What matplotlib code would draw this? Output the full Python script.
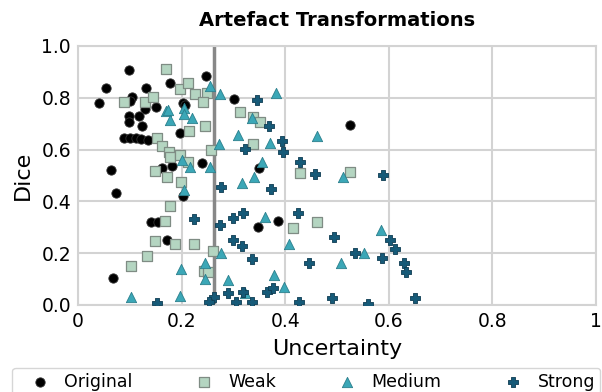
import matplotlib
matplotlib.use("Agg")
import matplotlib.pyplot as plt

# uncertainty / dice pairs
orig_x = [0.099, 0.054, 0.131, 0.041, 0.104, 0.100, 0.151, 0.129, 0.177, 0.247,
          0.203, 0.206, 0.302, 0.099, 0.118, 0.099, 0.124, 0.089, 0.100, 0.111,
          0.121, 0.135, 0.196, 0.063, 0.163, 0.182, 0.171, 0.240, 0.074, 0.203,
          0.140, 0.154, 0.172, 0.067, 0.350, 0.525, 0.347, 0.387]
orig_y = [0.907, 0.838, 0.838, 0.780, 0.803, 0.788, 0.763, 0.756, 0.858, 0.882,
          0.780, 0.770, 0.794, 0.730, 0.730, 0.708, 0.691, 0.643, 0.643, 0.643,
          0.641, 0.637, 0.664, 0.521, 0.528, 0.537, 0.495, 0.547, 0.434, 0.421,
          0.319, 0.322, 0.251, 0.105, 0.528, 0.695, 0.302, 0.324]

weak_x = [0.169, 0.088, 0.129, 0.144, 0.196, 0.213, 0.225, 0.249, 0.241, 0.215,
          0.246, 0.153, 0.163, 0.176, 0.177, 0.196, 0.212, 0.257, 0.312, 0.148,
          0.171, 0.199, 0.337, 0.351, 0.338, 0.429, 0.525, 0.461, 0.416, 0.178,
          0.167, 0.148, 0.188, 0.223, 0.133, 0.103, 0.260, 0.243, 0.251]
weak_y = [0.911, 0.785, 0.782, 0.802, 0.833, 0.856, 0.813, 0.820, 0.785, 0.672,
          0.689, 0.643, 0.614, 0.592, 0.570, 0.580, 0.553, 0.598, 0.746, 0.517,
          0.495, 0.474, 0.724, 0.708, 0.622, 0.508, 0.512, 0.322, 0.296, 0.382,
          0.324, 0.247, 0.234, 0.236, 0.189, 0.152, 0.210, 0.131, 0.129]

med_x = [0.255, 0.275, 0.169, 0.174, 0.204, 0.204, 0.178, 0.220, 0.308, 0.272,
         0.201, 0.217, 0.254, 0.382, 0.335, 0.371, 0.461, 0.356, 0.512, 0.340,
         0.317, 0.361, 0.408, 0.585, 0.553, 0.507, 0.379, 0.398, 0.323, 0.204,
         0.276, 0.246, 0.246, 0.198, 0.290, 0.196, 0.103]
med_y = [0.847, 0.813, 0.749, 0.753, 0.759, 0.737, 0.714, 0.721, 0.656, 0.622,
         0.560, 0.531, 0.534, 0.820, 0.723, 0.624, 0.653, 0.553, 0.495, 0.493,
         0.470, 0.341, 0.236, 0.290, 0.202, 0.161, 0.116, 0.071, 0.045, 0.442,
         0.202, 0.163, 0.099, 0.138, 0.097, 0.035, 0.032]

strong_x = [0.345, 0.368, 0.393, 0.395, 0.323, 0.429, 0.457, 0.588, 0.372, 0.319,
            0.425, 0.494, 0.317, 0.336, 0.445, 0.535, 0.586, 0.602, 0.612, 0.630,
            0.634, 0.650, 0.490, 0.560, 0.426, 0.364, 0.376, 0.318, 0.336, 0.276,
            0.223, 0.274, 0.299, 0.300, 0.289, 0.263, 0.152, 0.252, 0.305]
strong_y = [0.792, 0.689, 0.633, 0.592, 0.601, 0.553, 0.505, 0.502, 0.447, 0.354,
            0.354, 0.264, 0.228, 0.176, 0.161, 0.200, 0.183, 0.251, 0.216, 0.161,
            0.129, 0.026, 0.026, 0.004, 0.010, 0.052, 0.064, 0.052, 0.013, 0.455,
            0.331, 0.309, 0.335, 0.251, 0.045, 0.030, 0.009, 0.010, 0.013]

threshold = 0.263

x_ticks = [0, 0.2, 0.4, 0.6, 0.8, 1]
x_labels = ["0", "0.2", "0.4", "0.6", "0.8", "1"]
y_ticks = [0.0, 0.2, 0.4, 0.6, 0.8, 1.0]
y_labels = ["0.0", "0.2", "0.4", "0.6", "0.8", "1.0"]

fig = plt.figure(figsize=(6.02, 3.92), dpi=100)
ax = fig.add_axes([0.1296, 0.222, 0.8604, 0.661])

ax.grid(True, color="#d3d3d3", linewidth=1.5, zorder=0)
ax.set_axisbelow(True)
for s in ax.spines.values():
    s.set_color("#d3d3d3")
    s.set_linewidth(1.5)

ax.axvline(threshold, color="#888888", linewidth=2.5, zorder=1)

ax.scatter(orig_x, orig_y, marker="o", s=45, color="black",
           edgecolor="#333333", linewidth=0.6, label="Original", zorder=3)
ax.scatter(weak_x, weak_y, marker="s", s=45, color="#b4d5c1",
           edgecolor="#7f8c84", linewidth=0.9, label="Weak", zorder=3)
ax.scatter(med_x, med_y, marker="^", s=55, color="#3ba7b7",
           edgecolor="#2b7f8c", linewidth=0.6, label="Medium", zorder=3)
ax.scatter(strong_x, strong_y, marker="P", s=55, color="#165a78",
           edgecolor="#0e3c52", linewidth=0.6, label="Strong", zorder=3)

ax.set_xlim(0, 1)
ax.set_ylim(0, 1)
ax.set_xticks(x_ticks)
ax.set_xticklabels(x_labels, fontsize=13.5)
ax.set_yticks(y_ticks)
ax.set_yticklabels(y_labels, fontsize=13.5)
ax.tick_params(length=0, pad=5)

ax.set_title("Artefact Transformations", fontsize=14, fontweight="bold", pad=14)
ax.set_xlabel("Uncertainty", fontsize=16, labelpad=6)
ax.set_ylabel("Dice", fontsize=16, labelpad=6)

fig.legend(loc="upper left", bbox_to_anchor=(0.02, 0.062, 0.977, 0), mode="expand",
           ncol=4, fontsize=12.5, frameon=True, edgecolor="#cccccc",
           handlelength=2.6, handletextpad=0.1, borderpad=0.3, borderaxespad=0,
           fancybox=True)

fig.savefig("out.png", dpi=100)
